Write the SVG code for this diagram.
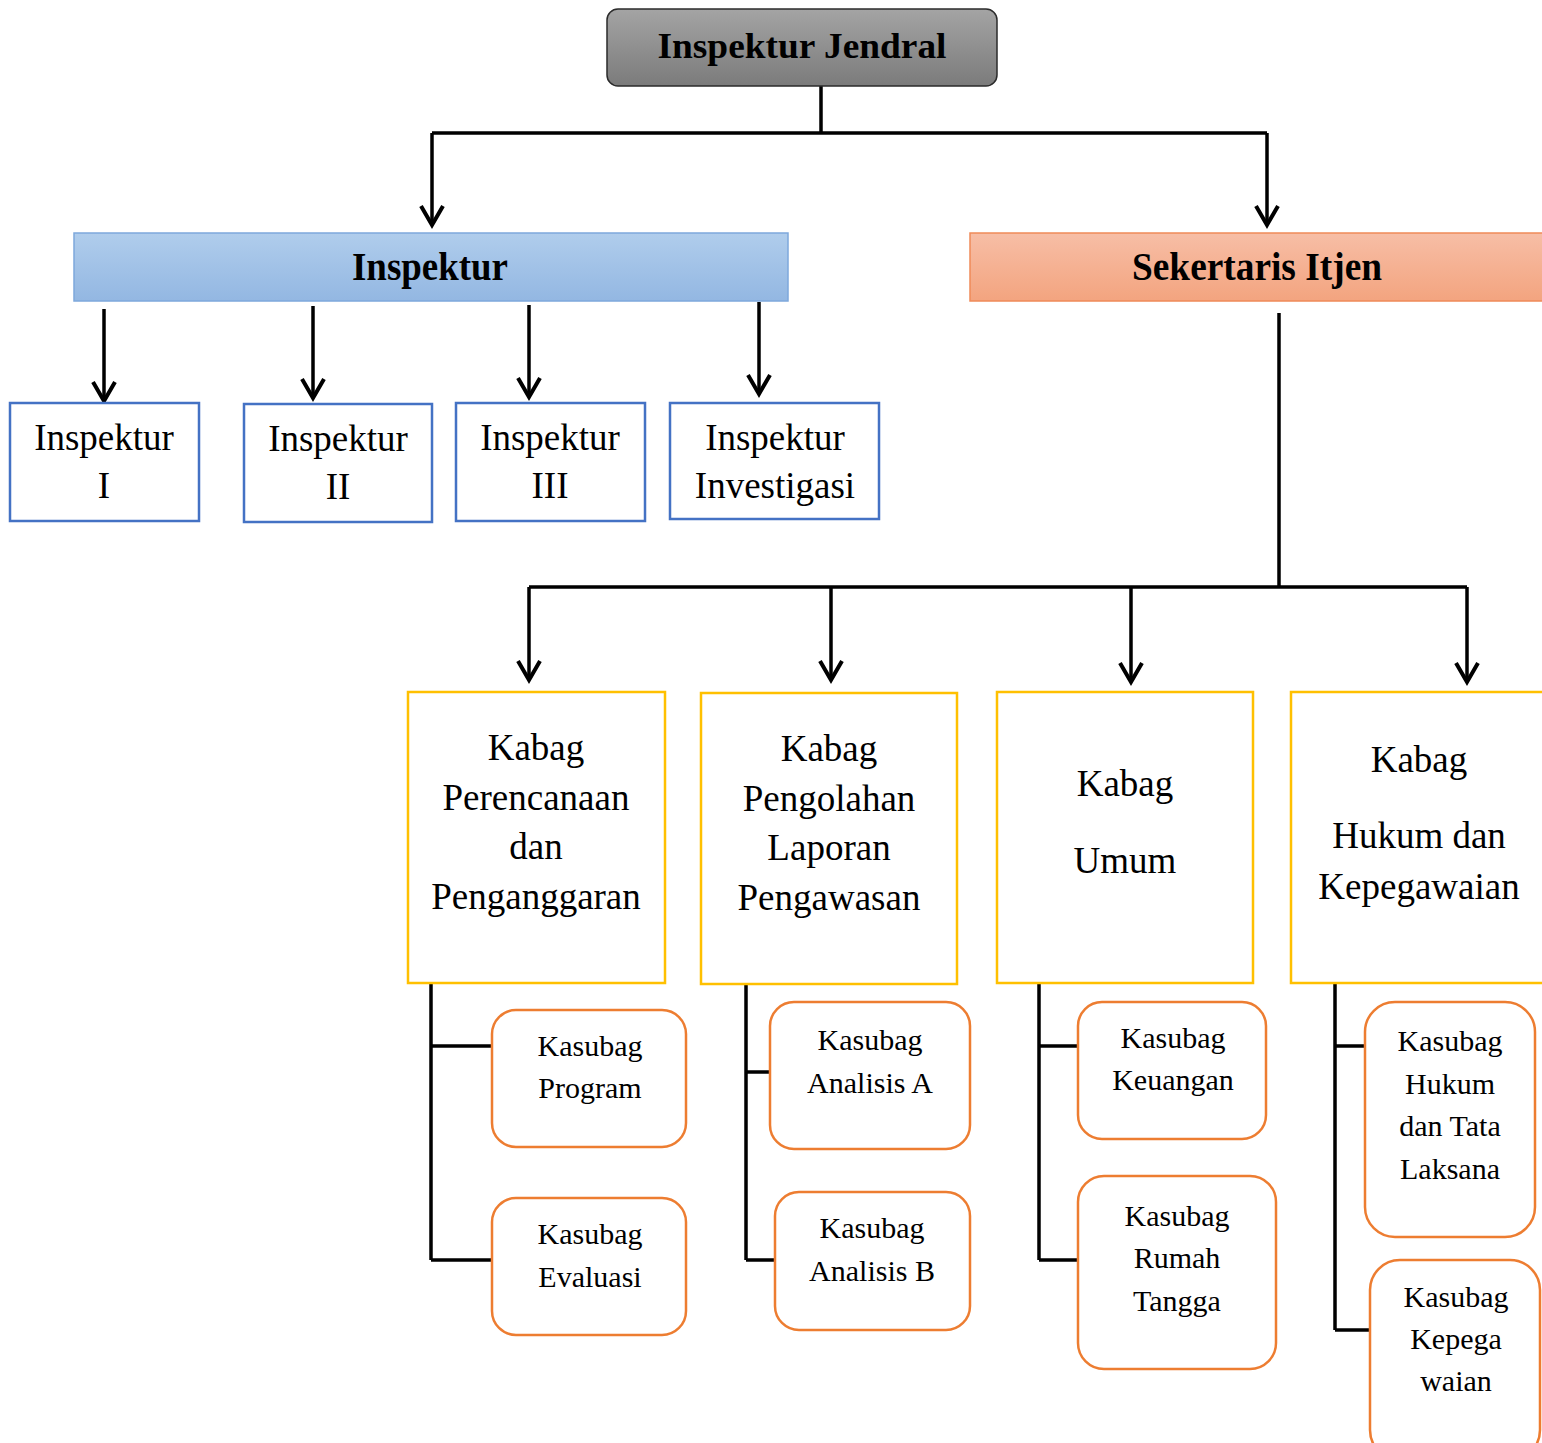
<svg xmlns="http://www.w3.org/2000/svg" width="1542" height="1443" viewBox="0 0 1542 1443">
<defs>
<linearGradient id="gGray" x1="0" y1="0" x2="0" y2="1"><stop offset="0" stop-color="#a4a4a4"/><stop offset="1" stop-color="#7b7b7b"/></linearGradient>
<linearGradient id="gBlue" x1="0" y1="0" x2="0" y2="1"><stop offset="0" stop-color="#b0cdec"/><stop offset="1" stop-color="#93b7e2"/></linearGradient>
<linearGradient id="gOrange" x1="0" y1="0" x2="0" y2="1"><stop offset="0" stop-color="#f7bea6"/><stop offset="1" stop-color="#f3a47f"/></linearGradient>
<marker id="arr" viewBox="0 0 26 26" refX="22" refY="13" markerWidth="26" markerHeight="26" markerUnits="userSpaceOnUse" orient="auto">
<path d="M3,2 L22,13 L3,24" fill="none" stroke="#000" stroke-width="4"/>
</marker>
<style>
.t{font-family:"Liberation Serif","Times New Roman",serif;fill:#000;text-anchor:middle}
.b{font-weight:bold}
.insp{fill:#fff;stroke:#4472c4;stroke-width:2.5}
.kabag{fill:#fff;stroke:#ffc000;stroke-width:2.5}
.kasub{fill:#fff;stroke:#ed7d31;stroke-width:2.5}
.c{fill:none;stroke:#000;stroke-width:3.5}
.a{fill:none;stroke:#000;stroke-width:3.5;marker-end:url(#arr)}
.f37{font-size:37px}
.f30{font-size:30px}
</style>
</defs>

<g id="connectors">
<path class="c" d="M821,86 V133 M432,133 H1267"/>
<path class="a" d="M432,133 V225"/>
<path class="a" d="M1267,133 V225"/>
<path class="a" d="M104,309 V401"/>
<path class="a" d="M313,306 V398"/>
<path class="a" d="M529,305 V397"/>
<path class="a" d="M759,302 V394"/>
<path class="c" d="M1279,313 V587 M529,587 H1467"/>
<path class="a" d="M529,587 V680"/>
<path class="a" d="M831,587 V680"/>
<path class="a" d="M1131,587 V682"/>
<path class="a" d="M1467,587 V682"/>
<path class="c" d="M431,983 V1260 M431,1046 H492 M431,1260 H492"/>
<path class="c" d="M746,984 V1260 M746,1072 H770 M746,1260 H775"/>
<path class="c" d="M1039,983 V1260 M1039,1046 H1078 M1039,1260 H1078"/>
<path class="c" d="M1335,983 V1330 M1335,1046 H1365 M1335,1330 H1370"/>
</g>

<g id="inspektur-jendral">
<rect x="607" y="9" width="390" height="77" rx="11" fill="url(#gGray)" stroke="#2b2b2b" stroke-width="1.5"/>
<text class="t b" x="802" y="58" font-size="36" textLength="289" lengthAdjust="spacingAndGlyphs">Inspektur Jendral</text>
</g>

<g id="inspektur">
<rect x="74" y="233" width="714" height="68" fill="url(#gBlue)" stroke="#7ea8dc" stroke-width="1.5"/>
<text class="t b" x="430" y="280" font-size="39" textLength="156" lengthAdjust="spacingAndGlyphs">Inspektur</text>
</g>

<g id="sekertaris-itjen">
<rect x="970" y="233" width="590" height="68" fill="url(#gOrange)" stroke="#ef8a58" stroke-width="1.5"/>
<text class="t b" x="1257" y="280" font-size="40" textLength="250" lengthAdjust="spacingAndGlyphs">Sekertaris Itjen</text>
</g>

<g id="inspektur-1">
<rect class="insp" x="10" y="403" width="189" height="118"/>
<text class="t f37" x="104" y="450">Inspektur</text>
<text class="t f37" x="104" y="498">I</text>
</g>
<g id="inspektur-2">
<rect class="insp" x="244" y="404" width="188" height="118"/>
<text class="t f37" x="338" y="451">Inspektur</text>
<text class="t f37" x="338" y="499">II</text>
</g>
<g id="inspektur-3">
<rect class="insp" x="456" y="403" width="189" height="118"/>
<text class="t f37" x="550" y="450">Inspektur</text>
<text class="t f37" x="550" y="498">III</text>
</g>
<g id="inspektur-investigasi">
<rect class="insp" x="670" y="403" width="209" height="116"/>
<text class="t f37" x="775" y="450">Inspektur</text>
<text class="t f37" x="775" y="498">Investigasi</text>
</g>

<g id="kabag-perencanaan">
<rect class="kabag" x="408" y="692" width="257" height="291"/>
<text class="t f37" x="536" y="760">Kabag</text>
<text class="t f37" x="536" y="810">Perencanaan</text>
<text class="t f37" x="536" y="859">dan</text>
<text class="t f37" x="536" y="909">Penganggaran</text>
</g>
<g id="kabag-pengolahan">
<rect class="kabag" x="701" y="693" width="256" height="291"/>
<text class="t f37" x="829" y="761">Kabag</text>
<text class="t f37" x="829" y="811">Pengolahan</text>
<text class="t f37" x="829" y="860">Laporan</text>
<text class="t f37" x="829" y="910">Pengawasan</text>
</g>
<g id="kabag-umum">
<rect class="kabag" x="997" y="692" width="256" height="291"/>
<text class="t f37" x="1125" y="796">Kabag</text>
<text class="t f37" x="1125" y="873">Umum</text>
</g>
<g id="kabag-hukum">
<rect class="kabag" x="1291" y="692" width="270" height="291"/>
<text class="t f37" x="1419" y="772">Kabag</text>
<text class="t f37" x="1419" y="848">Hukum dan</text>
<text class="t f37" x="1419" y="899">Kepegawaian</text>
</g>

<g id="kasubag-program">
<rect class="kasub" x="492" y="1010" width="194" height="137" rx="24"/>
<text class="t f30" x="590" y="1056">Kasubag</text>
<text class="t f30" x="590" y="1098">Program</text>
</g>
<g id="kasubag-evaluasi">
<rect class="kasub" x="492" y="1198" width="194" height="137" rx="24"/>
<text class="t f30" x="590" y="1244">Kasubag</text>
<text class="t f30" x="590" y="1287">Evaluasi</text>
</g>
<g id="kasubag-analisis-a">
<rect class="kasub" x="770" y="1002" width="200" height="147" rx="24"/>
<text class="t f30" x="870" y="1050">Kasubag</text>
<text class="t f30" x="870" y="1093">Analisis A</text>
</g>
<g id="kasubag-analisis-b">
<rect class="kasub" x="775" y="1192" width="195" height="138" rx="24"/>
<text class="t f30" x="872" y="1238">Kasubag</text>
<text class="t f30" x="872" y="1281">Analisis B</text>
</g>
<g id="kasubag-keuangan">
<rect class="kasub" x="1078" y="1002" width="188" height="137" rx="24"/>
<text class="t f30" x="1173" y="1048">Kasubag</text>
<text class="t f30" x="1173" y="1090">Keuangan</text>
</g>
<g id="kasubag-rumah-tangga">
<rect class="kasub" x="1078" y="1176" width="198" height="193" rx="26"/>
<text class="t f30" x="1177" y="1226">Kasubag</text>
<text class="t f30" x="1177" y="1268">Rumah</text>
<text class="t f30" x="1177" y="1311">Tangga</text>
</g>
<g id="kasubag-hukum-tata-laksana">
<rect class="kasub" x="1365" y="1002" width="170" height="235" rx="30"/>
<text class="t f30" x="1450" y="1051">Kasubag</text>
<text class="t f30" x="1450" y="1094">Hukum</text>
<text class="t f30" x="1450" y="1136">dan Tata</text>
<text class="t f30" x="1450" y="1179">Laksana</text>
</g>
<g id="kasubag-kepegawaian">
<rect class="kasub" x="1370" y="1260" width="170" height="200" rx="30"/>
<text class="t f30" x="1456" y="1307">Kasubag</text>
<text class="t f30" x="1456" y="1349">Kepega</text>
<text class="t f30" x="1456" y="1391">waian</text>
</g>
</svg>
